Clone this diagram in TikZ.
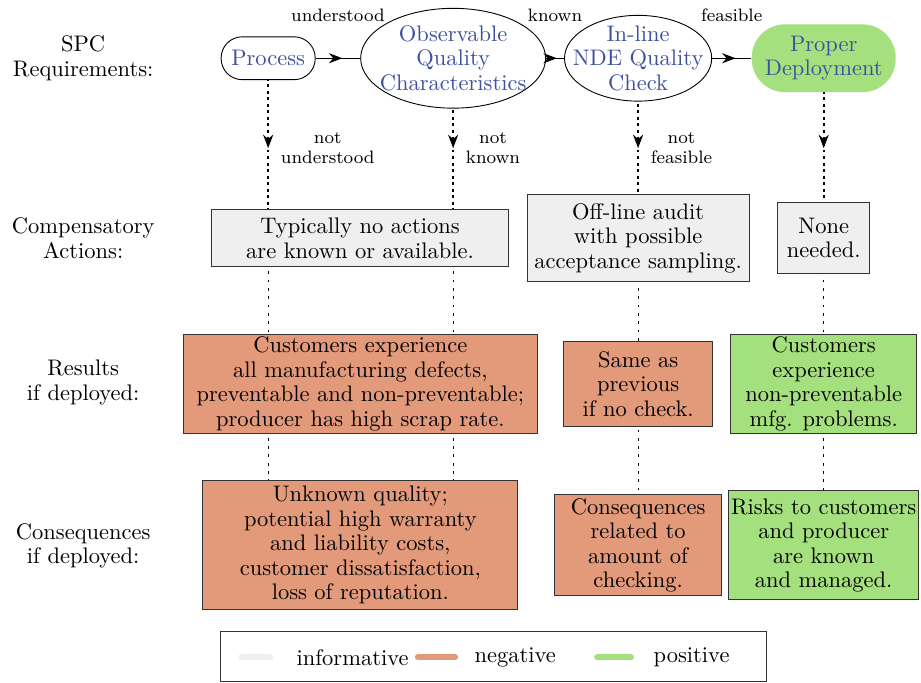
\documentclass[tikz,border=0pt]{standalone}
\usepackage{tikz}
\usetikzlibrary{shapes.geometric,arrows.meta,positioning,calc,decorations.markings,backgrounds}
\usepackage{xcolor}

\definecolor{infogray}{RGB}{239,239,239}
\definecolor{badorange}{RGB}{226,154,123}
\definecolor{goodgreen}{RGB}{164,224,126}
\definecolor{reqblue}{RGB}{62,80,160}

\begin{document}
\begin{tikzpicture}[
    txt/.style={font=\fontsize{10}{10.9}\selectfont, align=center},
    lbl/.style={font=\fontsize{8}{8.6}\selectfont, align=center},
    stage/.style={draw, fill=white, inner sep=0pt},
    info/.style={txt, draw=black!80, fill=infogray, inner sep=1pt},
    bad/.style={txt, draw=black!80, fill=badorange, inner sep=1pt},
    good/.style={txt, draw=black!80, fill=goodgreen, inner sep=1pt},
    flow/.style={semithick, postaction={decorate}, decoration={markings,
        mark=at position 0.6 with {\arrow{Stealth[length=6pt,width=4.5pt]}}}},
    fail/.style={line width=0.7pt, dash pattern=on 1.3pt off 1.6pt, postaction={decorate},
        decoration={markings, mark=at position 0.5 with {\arrow{Stealth[length=6pt,width=4.5pt]}}}},
    guide/.style={thin, dash pattern=on 1.2pt off 2.5pt},
    key/.style={line width=2.7pt, line cap=round}
]
    \useasboundingbox (0,0) rectangle (14.39,-10.656);

    % Row titles
    \node[txt] (t-spc) at (1.30,-0.91) {SPC\\Requirements:};
    \node[txt] (t-comp) at (1.30,-3.72) {Compensatory\\Actions:};
    \node[txt] (t-res) at (1.30,-5.98) {Results\\if deployed:};
    \node[txt] (t-cons) at (1.30,-8.53) {Consequences\\if deployed:};

    % SPC stages
    \node[stage, rounded corners=0.33cm, minimum width=1.47cm, minimum height=0.67cm] (proc) at (4.19,-0.91) {};
    \node[stage, ellipse, minimum width=2.89cm, minimum height=1.56cm] (obs) at (7.08,-0.91) {};
    \node[stage, ellipse, minimum width=2.30cm, minimum height=1.34cm] (chk) at (9.97,-0.91) {};
    \node[stage, rounded corners=0.52cm, draw=none, fill=goodgreen, minimum width=2.25cm, minimum height=1.06cm] (dep) at (12.87,-0.91) {};
    \node[txt, text=reqblue] (proc-t) at (proc) {Process};
    \node[txt, text=reqblue] (obs-t) at (obs) {Observable\\Quality\\Characteristics};
    \node[txt, text=reqblue] (chk-t) at (chk) {In-line\\NDE Quality\\Check};
    \node[txt, text=reqblue] (dep-t) at (dep) {Proper\\Deployment};

    % Compensatory actions
    \node[info, minimum width=4.63cm, minimum height=0.89cm] (typ) at (5.625,-3.72) {Typically no actions\\are known or available.};
    \node[info, minimum width=3.47cm, minimum height=1.36cm] (off) at (9.97,-3.72) {Off-line audit\\with possible\\acceptance sampling.};
    \node[info, minimum width=1.44cm, minimum height=1.11cm] (none) at (12.87,-3.72) {None\\needed.};

    % Results
    \node[bad, minimum width=5.52cm, minimum height=1.56cm] (res-a) at (5.63,-6.0) {Customers experience\\all manufacturing defects,\\preventable and non-preventable;\\producer has high scrap rate.};
    \node[bad, minimum width=2.33cm, minimum height=1.33cm] (res-b) at (9.97,-6.0) {Same as\\previous\\if no check.};
    \node[good, minimum width=2.91cm, minimum height=1.56cm] (res-c) at (12.87,-6.0) {Customers\\experience\\non-preventable\\mfg. problems.};

    % Consequences
    \node[bad, minimum width=4.92cm, minimum height=2.02cm] (cons-a) at (5.63,-8.52) {Unknown quality;\\potential high warranty\\and liability costs,\\customer dissatisfaction,\\loss of reputation.};
    \node[bad, minimum width=2.61cm, minimum height=1.58cm] (cons-b) at (9.97,-8.52) {Consequences\\related to\\amount of\\checking.};
    \node[good, minimum width=2.91cm, minimum height=1.70cm] (cons-c) at (12.87,-8.52) {Risks to customers\\and producer\\are known\\and managed.};

    % Stage flow
    \draw[flow] (proc) -- (obs) node[lbl, midway, above=0.45cm] {understood};
    \draw[flow] (obs) -- (chk) node[lbl, midway, above=0.45cm] {known};
    \draw[flow] (chk) -- (dep) node[lbl, midway, above=0.45cm] {feasible};

    % Fallbacks and guide lines
    \begin{scope}[on background layer]
        \draw[fail] (proc.center) -- (proc |- typ) node[lbl, midway, right=2pt] {not\\understood};
        \draw[fail] (obs.center) -- (obs |- typ) node[lbl, midway, right=2pt] {not\\known};
        \draw[fail] (chk.center) -- (chk |- off) node[lbl, midway, right=2pt] {not\\feasible};
        \draw[fail] (dep.center) -- (dep |- none);
        \draw[guide] (proc |- typ) -- (proc |- cons-a);
        \draw[guide] (obs |- typ) -- (obs |- cons-a);
        \draw[guide] (chk |- off) -- (chk |- cons-b);
        \draw[guide] (dep |- none) -- (dep |- cons-c);
    \end{scope}

    % Legend
    \node[draw=black!80, minimum width=8.52cm, minimum height=0.78cm] (legend) at (7.71,-10.25) {};
    \draw[key, infogray] (3.77,-10.27) -- (4.22,-10.27);
    \node[txt, anchor=west] (leg-info) at (4.51,-10.27) {informative};
    \draw[key, badorange] (6.53,-10.27) -- (7.11,-10.27);
    \node[txt, anchor=west] (leg-bad) at (7.29,-10.27) {negative};
    \draw[key, goodgreen] (9.33,-10.27) -- (9.86,-10.27);
    \node[txt, anchor=west] (leg-good) at (10.09,-10.27) {positive};

\end{tikzpicture}
\end{document}
